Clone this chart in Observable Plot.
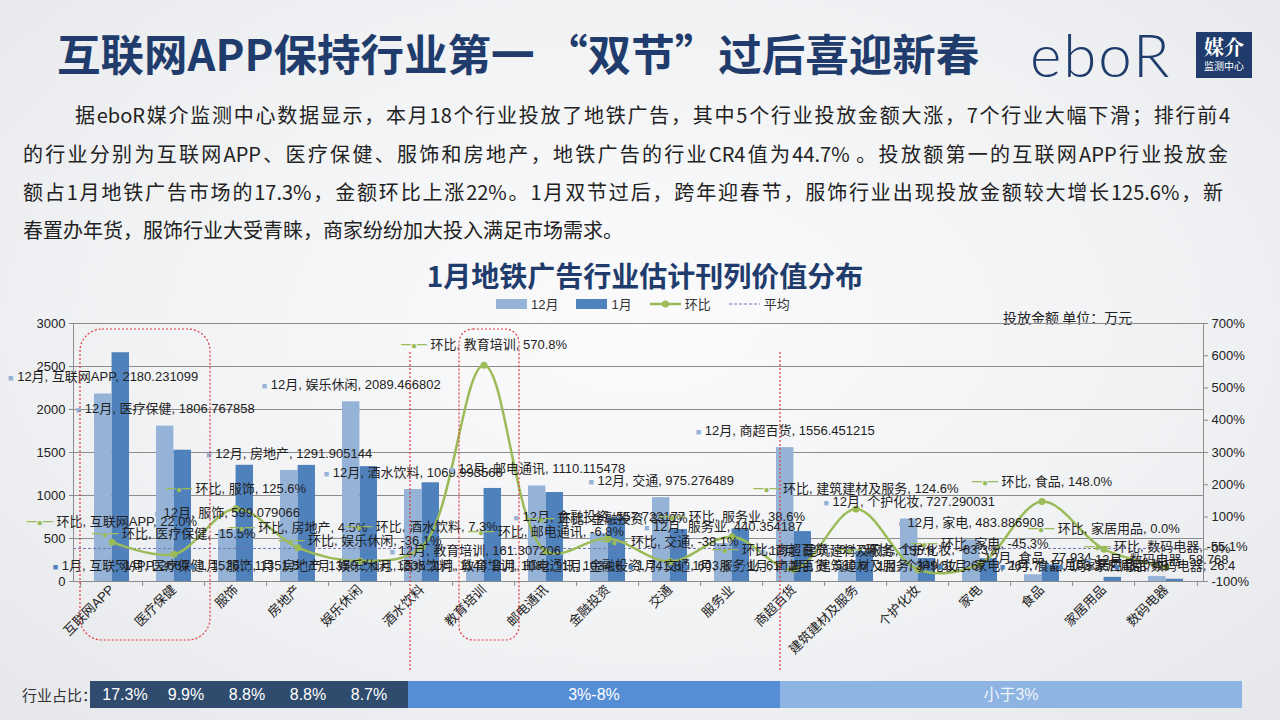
<!DOCTYPE html>
<html><head><meta charset="utf-8">
<script src="https://cdn.jsdelivr.net/npm/d3@7"></script>
<script src="https://cdn.jsdelivr.net/npm/@observablehq/plot@0.6"></script>
<style>
body{margin:0;width:1280px;height:720px;overflow:hidden;font-family:"Noto Sans CJK SC","Noto Sans",sans-serif;}
#page{position:relative;width:1280px;height:720px;overflow:hidden;
 background:radial-gradient(ellipse 75% 80% at 50% 45%, #fbfbfc 0%, #f1f2f4 55%, #e4e6e9 100%);}
.title{position:absolute;left:57px;top:25px;font-size:43.5px;font-weight:bold;color:#1f3c6c;white-space:nowrap;line-height:56px;}
.logo{position:absolute;left:1030px;top:22px;font-family:"Lato","Open Sans",sans-serif;font-weight:300;font-size:60px;color:#1f3c6c;line-height:64px;letter-spacing:2px;}
.logobox{position:absolute;left:1196px;top:32px;width:56px;height:46px;background:#1f3c6c;color:#fff;text-align:center;}
.logobox .a{font-size:20px;font-weight:bold;line-height:24px;margin-top:3px;font-family:"Noto Serif CJK SC","Noto Sans CJK SC",serif;}
.logobox .b{font-size:10px;line-height:14px;}
.para{position:absolute;font-size:20px;color:#222;line-height:28px;text-align:justify;text-align-last:justify;}
.ctitle{position:absolute;left:0;width:1290px;top:256px;text-align:center;font-size:28px;font-weight:bold;color:#1f3c6c;line-height:38px;}
.legend{position:absolute;top:294px;left:496px;font-size:13px;color:#333;display:flex;align-items:center;font-family:"Liberation Sans","Noto Sans CJK SC",sans-serif;}
.legend span.sw{display:inline-block;width:31px;height:10px;margin-right:4px;}
.legend .item{display:flex;align-items:center;margin-right:18px;}
.unit{position:absolute;left:1003px;top:307px;font-size:14px;color:#222;}
#chart{position:absolute;left:0;top:300px;}
.band{position:absolute;top:681px;height:27px;color:#fff;font-size:16px;line-height:27px;font-family:"Liberation Sans","Noto Sans CJK SC",sans-serif;}
.bandlbl{position:absolute;left:22px;top:681px;line-height:27px;font-size:15px;color:#333;}
.sh{position:absolute;top:0;transform:translateX(-50%);}
#anno{position:absolute;left:0;top:0;pointer-events:none;}
</style></head>
<body><div id="page">
<div class="title">互联网APP保持行业第一 “双节”过后喜迎新春</div>
<div class="logo">eboR</div>
<div class="logobox"><div class="a">媒介</div><div class="b">监测中心</div></div>
<div class="para" style="left:75px;top:101px;width:1155px;">据eboR媒介监测中心数据显示，本月18个行业投放了地铁广告，其中5个行业投放金额大涨，7个行业大幅下滑；排行前4</div>
<div class="para" style="left:23px;top:140px;width:1205px;">的行业分别为互联网APP、医疗保健、服饰和房地产，地铁广告的行业CR4值为44.7% 。投放额第一的互联网APP行业投放金</div>
<div class="para" style="left:23px;top:178px;width:1200px;">额占1月地铁广告市场的17.3%，金额环比上涨22%。1月双节过后，跨年迎春节，服饰行业出现投放金额较大增长125.6%，新</div>
<div class="para" style="left:23px;top:216px;text-align-last:left;">春置办年货，服饰行业大受青睐，商家纷纷加大投入满足市场需求。</div>
<div class="ctitle">1月地铁广告行业估计刊列价值分布</div>
<div class="legend" id="legend"></div>
<div class="unit">投放金额 单位：万元</div>
<div id="chart"></div>
<div class="bandlbl">行业占比：</div>
<div class="band" id="b1" style="left:90px;width:318px;background:#2f4b6d;"></div>
<div class="band" id="b2" style="left:408px;width:372px;background:#558ed5;text-align:center;"></div>
<div class="band" id="b3" style="left:780px;width:462px;background:#8db4e2;text-align:center;color:#eef4fb;"></div>
<svg id="anno" width="1280" height="720">
 <g fill="none" stroke="#e0393e" stroke-width="1.2" stroke-dasharray="2,2">
  <rect x="80" y="329" width="130" height="311" rx="22"/>
  <rect x="459" y="329" width="60" height="311" rx="14"/>
  <line x1="410" y1="352" x2="410" y2="670"/>
  <line x1="780" y1="352" x2="780" y2="670"/>
 </g>
</svg>
</div>
<script>
const categories = ["互联网APP","医疗保健","服饰","房地产","娱乐休闲","酒水饮料","教育培训","邮电通讯","金融投资","交通","服务业","商超百货","建筑建材及服务","个护化妆","家电","食品","家居用品","数码电器"];
const dec = [2180.231099,1806.767858,599.079066,1291.905144,2089.466802,1069.993566,161.307206,1110.115478,557.722177,975.276489,440.354187,1556.451215,155.6,727.290031,483.886908,77.934,0,58.768];
const jan = [2660.0,1526.7,1351.5,1350.1,1335.2,1148.1,1082.1,1034.6,741.8,603.8,610.3,580.6,349.5,267.0,264.7,193.3,48.0,26.4];
const mom = [22.0,-15.5,125.6,4.5,-36.1,7.3,570.8,-6.8,33.0,-38.1,38.6,-62.7,124.6,-63.3,-45.3,148.0,0.0,-55.1];
const avgLine = [384];
const leftTicks = [0,500,1000,1500,2000,2500,3000];
const rightTicks = [-100,0,100,200,300,400,500,600,700];
const seriesNames = ["12月","1月","环比","平均"];
const shareTop = ["17.3%","9.9%","8.8%","8.8%","8.7%"];
const shareMid = ["3%-8%"];
const shareLow = ["小于3%"];

const C12 = "#95b3d7", C1 = "#4f81bd", CG = "#9bbb59", CAVG = "#7474b4";
const toLeft = p => (p + 100) * 3000 / 800;

const rows = categories.map((c, i) => ({cat: c, dec: dec[i], jan: jan[i], mom: mom[i]}));

const W = 1280, H = 360, ML = 73, MR = 77, MT = 23, MB = 79;
const step = (W - ML - MR) / categories.length;
const bw = step * 0.56;

const KEY_BAR = "\u25A0";
const KEY_LINE = "\u2501\u25CF\u2501";

const plot = Plot.plot({
  width: W, height: H, marginLeft: ML, marginRight: MR, marginTop: MT, marginBottom: MB,
  style: {background: "transparent", fontFamily: '"Liberation Sans","Noto Sans CJK SC",sans-serif', fontSize: "13px", color: "#222", overflow: "visible"},
  x: {domain: categories, paddingInner: 0.44, paddingOuter: 0.22, axis: null, label: null},
  y: {domain: [0, 3000], axis: null, label: null},
  marks: [
    Plot.ruleY(leftTicks.slice(1, -1), {stroke: "#8c8c8c"}),
    Plot.barY(rows, {x: "cat", y: "dec", fill: C12, insetRight: bw / 2}),
    Plot.barY(rows, {x: "cat", y: "jan", fill: C1, insetLeft: bw / 2}),
    Plot.ruleY(avgLine, {stroke: CAVG, strokeDasharray: "3,2", strokeWidth: 1}),
    Plot.frame({stroke: "#8c8c8c"}),
    Plot.axisY(leftTicks, {anchor: "left", tickSize: 4, tickPadding: 4, fontSize: 13, stroke: "#8c8c8c", label: null,
      tickFormat: d => String(d)}),
    Plot.axisY(rightTicks.map(toLeft), {anchor: "right", tickSize: 4, tickPadding: 4, fontSize: 13, stroke: "#8c8c8c", label: null,
      tickFormat: d => `${Math.round(d * 800 / 3000 - 100)}%`}),
    Plot.axisX({tickRotate: -45, tickSize: 0, tickPadding: 6, fontSize: 13, label: null}),
    Plot.ruleX(categories, {x: d => d, y1: 0, y2: -58, dx: -step / 2, stroke: "#8c8c8c"}),
    Plot.ruleX(categories.slice(-1), {x: d => d, y1: 0, y2: -58, dx: step / 2, stroke: "#8c8c8c"}),
    Plot.line(rows, {x: "cat", y: d => toLeft(d.mom), stroke: CG, strokeWidth: 2.5, curve: "catmull-rom"}),
    Plot.dot(rows, {x: "cat", y: d => toLeft(d.mom), r: 3.5, fill: CG}),
    Plot.text(rows, {x: "cat", y: "dec", dx: -bw / 4, dy: -17, fill: "#222", fontSize: 13,
      text: d => `${KEY_BAR} 12月, ${d.cat}, ${d.dec}`}),
    Plot.text(rows, {x: "cat", y: 0, dx: bw / 4, dy: -16, fill: "#222", fontSize: 13,
      text: d => `${KEY_BAR} 1月, ${d.cat}, ${d.jan}`}),
    Plot.text(rows, {x: "cat", y: d => toLeft(d.mom), dy: -20, fill: "#222", fontSize: 13,
      text: d => `${KEY_LINE} 环比, ${d.cat}, ${d.mom.toFixed(1)}%`})
  ]
});
document.getElementById("chart").appendChild(plot);

// colour the legend keys inside data labels
d3.select(plot).selectAll("text").each(function() {
  const t = this.textContent;
  let key = null, color = null, size = "10px";
  if (t.startsWith(KEY_LINE)) { key = KEY_LINE; color = CG; size = "10px"; }
  else if (t.startsWith(KEY_BAR)) { key = KEY_BAR; color = t.includes(" 12月,") ? C12 : C1; size = "9px"; }
  if (!key) return;
  const rest = t.slice(key.length);
  const el = d3.select(this);
  el.text(null);
  el.append("tspan").attr("fill", color).style("font-size", size).text(key);
  el.append("tspan").text(rest);
});

// legend
const lg = d3.select("#legend");
const colors = [C12, C1];
seriesNames.forEach((n, i) => {
  const it = lg.append("div").attr("class", "item");
  if (i < 2) it.append("span").attr("class", "sw").style("background", colors[i]);
  else {
    const s = it.append("svg").attr("width", 31).attr("height", 10).style("margin-right", "4px");
    if (i === 2) {
      s.append("line").attr("x1", 0).attr("x2", 31).attr("y1", 5).attr("y2", 5).attr("stroke", CG).attr("stroke-width", 2.5);
      s.append("circle").attr("cx", 15.5).attr("cy", 5).attr("r", 3.5).attr("fill", CG);
    } else {
      s.append("line").attr("x1", 0).attr("x2", 31).attr("y1", 5).attr("y2", 5).attr("stroke", CAVG).attr("stroke-dasharray", "3,2");
    }
  }
  it.append("span").text(n);
});

// share band
const b1 = d3.select("#b1");
shareTop.forEach((s, i) => b1.append("span").attr("class", "sh").style("left", (35 + i * 61) + "px").text(s));
d3.select("#b2").text(shareMid[0]);
d3.select("#b3").text(shareLow[0]);
</script>
</body></html>
